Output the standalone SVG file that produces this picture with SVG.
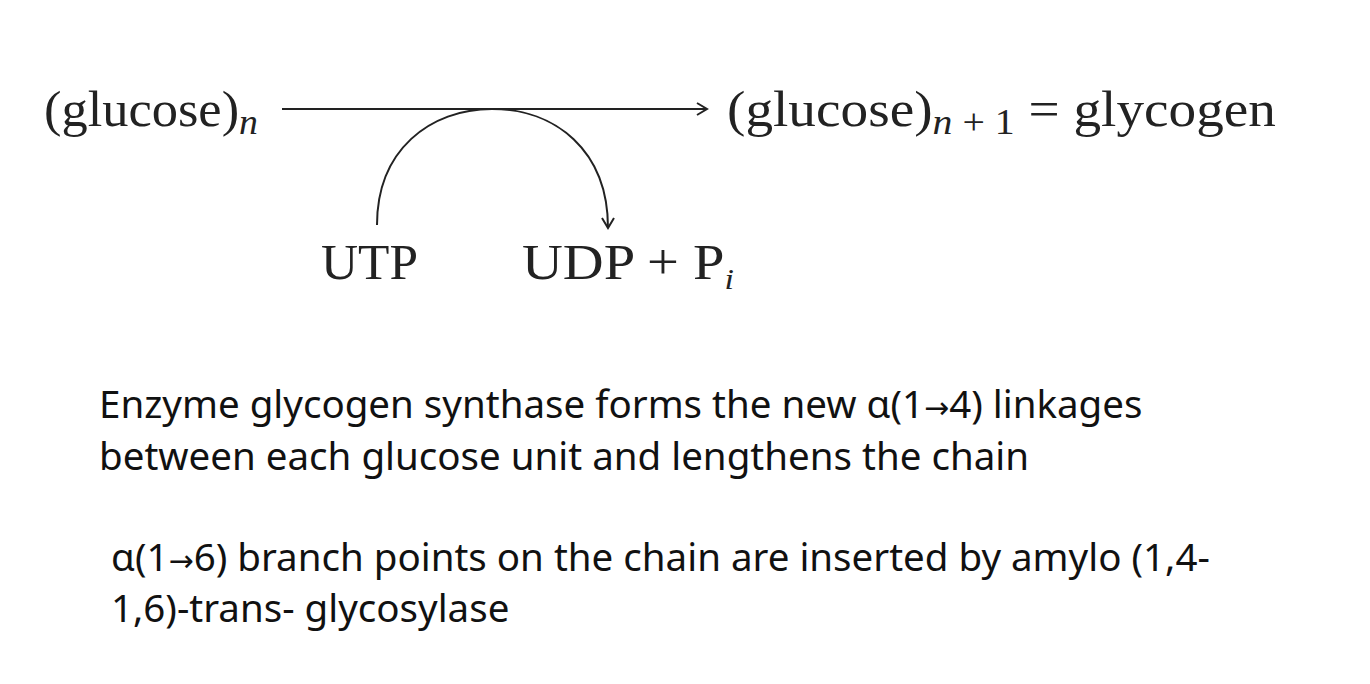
<svg xmlns="http://www.w3.org/2000/svg" width="1370" height="684" viewBox="0 0 1370 684">
<style>
.s{font-family:"Liberation Serif",serif;fill:#222;font-size:50px}
.i{font-style:italic}
.b{font-family:"Noto Sans","Open Sans",sans-serif;fill:#111;font-size:38.5px}
.ar{font-family:"DejaVu Sans",sans-serif;font-size:30px}
.c{fill:none;stroke:#222;stroke-width:2}
</style>
<defs><marker id="a" markerWidth="14" markerHeight="14" refX="12" refY="7" orient="auto" markerUnits="userSpaceOnUse"><path d="M2,1 L12,7 L2,13" fill="none" stroke="#222" stroke-width="2"/></marker></defs>
<rect width="1370" height="684" fill="#fff"/>
<g id="reactant"><text class="s" x="44" y="126" textLength="214" lengthAdjust="spacingAndGlyphs">(glucose)<tspan class="i" font-size="36" dy="8">n</tspan></text></g>
<g id="product"><text class="s" x="727" y="126" textLength="549" lengthAdjust="spacingAndGlyphs">(glucose)<tspan class="i" font-size="36" dy="8">n</tspan><tspan font-size="36"> + 1</tspan><tspan dy="-8"> = glycogen</tspan></text></g>
<g id="utp"><text class="s" x="321" y="279" textLength="97" lengthAdjust="spacingAndGlyphs">UTP</text></g>
<g id="udp"><text class="s" x="522" y="279" textLength="212" lengthAdjust="spacingAndGlyphs">UDP + P<tspan class="i" font-size="30" dy="10">i</tspan></text></g>
<g id="connectors">
<path class="c" d="M282,109 L707,109" marker-end="url(#a)"/>
<path class="c" d="M377,225 C377,150 430,109 492,109 C555,109 608,150 608,228" marker-end="url(#a)"/>
</g>
<g id="notes">
<text class="b" x="99" y="418">Enzyme glycogen synthase forms the new α(1<tspan class="ar">→</tspan>4) linkages</text>
<text class="b" x="99" y="470">between each glucose unit and lengthens the chain</text>
<text class="b" x="111" y="571">α(1<tspan class="ar">→</tspan>6) branch points on the chain are inserted by amylo (1,4-</text>
<text class="b" x="111" y="622">1,6)-trans- glycosylase</text>
</g>
</svg>
